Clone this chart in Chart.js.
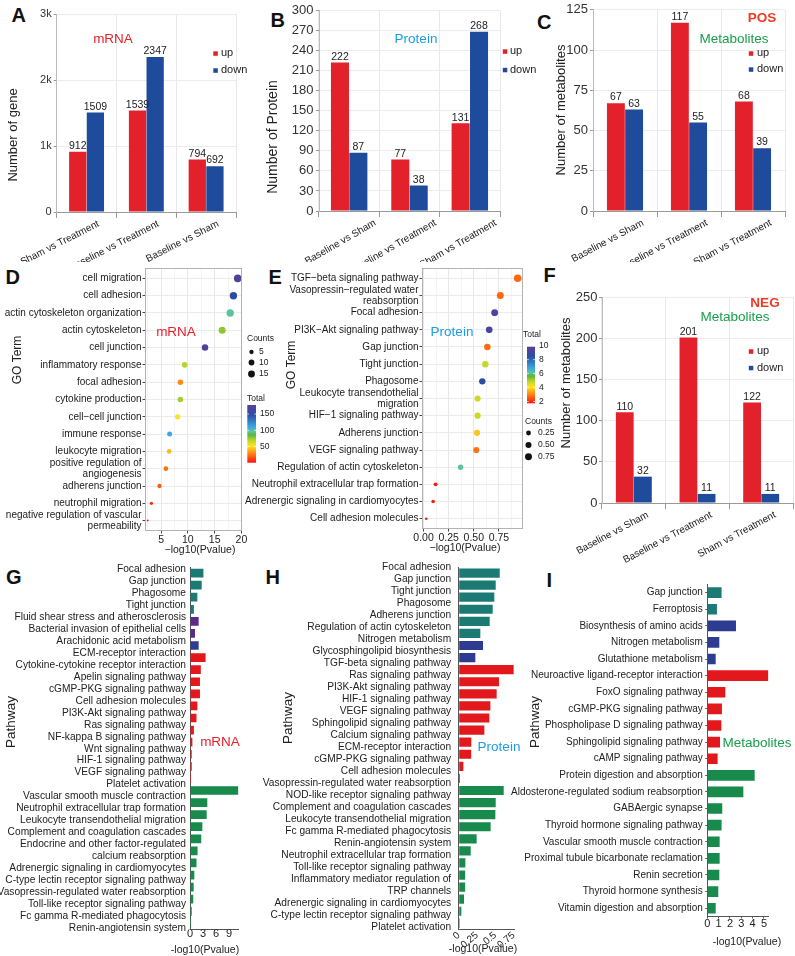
<!DOCTYPE html>
<html>
<head>
<meta charset="utf-8">
<script src="https://cdn.jsdelivr.net/npm/chart.js@4.4.1/dist/chart.umd.min.js"></script>
<style>
  html, body { margin: 0; padding: 0; background: #fff; }
  #fig { position: relative; width: 795px; height: 956px; overflow: hidden; }
  #fig canvas { position: absolute; }
  .tag { position: absolute; font: bold 20px "Liberation Sans", Arial, sans-serif; color: #111; line-height: 1; }
</style>
</head>
<body>
<div id="fig">
  <div class="tag" style="left:11.5px;top:5.4px">A</div>
  <div class="tag" style="left:270.5px;top:10.4px">B</div>
  <div class="tag" style="left:537px;top:12.4px">C</div>
  <div class="tag" style="left:5.5px;top:267.4px">D</div>
  <div class="tag" style="left:268.5px;top:267.4px">E</div>
  <div class="tag" style="left:543.5px;top:265.4px">F</div>
  <div class="tag" style="left:6px;top:567.4px">G</div>
  <div class="tag" style="left:265.5px;top:567.4px">H</div>
  <div class="tag" style="left:546.5px;top:570.4px">I</div>
</div>
<script>
// ---- data: differential counts (A, B, C, F) ----
const aCats = ['Sham vs Treatment', 'Baseline vs Treatment', 'Baseline vs Sham'];
const aUp = [912, 1539, 794];
const aDown = [1509, 2347, 692];
const aTickVals = [0, 1000, 2000, 3000];
const aTickText = ['0', '1k', '2k', '3k'];

const bCats = ['Baseline vs Sham', 'Baseline vs Treatment', 'Sham vs Treatment'];
const bUp = [222, 77, 131];
const bDown = [87, 38, 268];
const bTickVals = [0, 30, 60, 90, 120, 150, 180, 210, 240, 270, 300];

const cCats = ['Baseline vs Sham', 'Baseline vs Treatment', 'Sham vs Treatment'];
const cUp = [67, 117, 68];
const cDown = [63, 55, 39];
const cTickVals = [0, 25, 50, 75, 100, 125];

const fCats = ['Baseline vs Sham', 'Baseline vs Treatment', 'Sham vs Treatment'];
const fUp = [110, 201, 122];
const fDown = [32, 11, 11];
const fTickVals = [0, 50, 100, 150, 200, 250];

// ---- data: GO dot plots (D, E) ----
const dTerms = ['cell migration', 'cell adhesion', 'actin cytoskeleton organization', 'actin cytoskeleton',
  'cell junction', 'inflammatory response', 'focal adhesion', 'cytokine production', 'cell\u2212cell junction',
  'immune response', 'leukocyte migration', ['positive regulation of', 'angiogenesis'], 'adherens junction',
  'neutrophil migration', ['negative regulation of vascular', 'permeability']];
const dLogP = [19.3, 18.5, 17.9, 16.4, 13.2, 9.4, 8.6, 8.6, 8.1, 6.6, 6.5, 5.9, 4.7, 3.2, 2.5];
const dCounts = [19, 18, 18, 16, 13, 9, 9, 9, 8, 7, 6, 6, 5, 3, 2];
const dTotals = [172, 148, 96, 77, 169, 69, 30, 73, 53, 110, 41, 23, 18, 7, 4];
const dKeyCounts = [5, 10, 15];
const dKeyTotals = [50, 100, 150];

const eTerms = ['TGF\u2212beta signaling pathway', ['Vasopressin\u2212regulated water', 'reabsorption'], 'Focal adhesion',
  'PI3K\u2212Akt signaling pathway', 'Gap junction', 'Tight junction', 'Phagosome',
  ['Leukocyte transendothelial', 'migration'], 'HIF\u22121 signaling pathway', 'Adherens junction',
  'VEGF signaling pathway', 'Regulation of actin cytoskeleton', 'Neutrophil extracellular trap formation',
  'Adrenergic signaling in cardiomyocytes', 'Cell adhesion molecules'];
const eLogP = [0.937, 0.764, 0.708, 0.654, 0.635, 0.615, 0.585, 0.538, 0.538, 0.532, 0.525, 0.369, 0.12, 0.096, 0.027];
const eCounts = [0.93, 0.76, 0.71, 0.65, 0.64, 0.62, 0.59, 0.54, 0.54, 0.53, 0.53, 0.37, 0.12, 0.10, 0.03];
const eTotals = [2.72, 2.72, 9.53, 9.28, 2.8, 4.75, 8.47, 4.67, 4.67, 3.78, 2.88, 6.12, 1.85, 1.85, 1.85];
const eKeyCounts = [0.25, 0.5, 0.75];
const eKeyTotals = [2, 4, 6, 8, 10];

// ---- data: KEGG bars (G, H, I); group 0 cellular, 1 disease, 2 metabolism, 3 env. info, 4 organismal ----
const gPaths = ['Focal adhesion', 'Gap junction', 'Phagosome', 'Tight junction', 'Fluid shear stress and atherosclerosis',
  'Bacterial invasion of epithelial cells', 'Arachidonic acid metabolism', 'ECM-receptor interaction',
  'Cytokine-cytokine receptor interaction', 'Apelin signaling pathway', 'cGMP-PKG signaling pathway',
  'Cell adhesion molecules', 'PI3K-Akt signaling pathway', 'Ras signaling pathway', 'NF-kappa B signaling pathway',
  'Wnt signaling pathway', 'HIF-1 signaling pathway', 'VEGF signaling pathway', 'Platelet activation',
  'Vascular smooth muscle contraction', 'Neutrophil extracellular trap formation', 'Leukocyte transendothelial migration',
  'Complement and coagulation cascades', ['Endocrine and other factor-regulated ', 'calcium reabsorption'],
  'Adrenergic signaling in cardiomyocytes', 'C-type lectin receptor signaling pathway',
  'Vasopressin-regulated water reabsorption', 'Toll-like receptor signaling pathway',
  'Fc gamma R-mediated phagocytosis', 'Renin-angiotensin system'];
const gValues = [3.1, 2.7, 1.7, 0.9, 2.0, 1.15, 2.0, 3.6, 2.5, 2.3, 2.3, 1.7, 1.5, 0.9, 0.55, 0.4, 0.4, 0.25,
  11.15, 4.0, 3.85, 2.85, 2.6, 1.75, 1.5, 1.0, 0.85, 0.75, 0.4, 0.25];
const gGroups = [0, 0, 0, 0, 1, 1, 2, 3, 3, 3, 3, 3, 3, 3, 3, 3, 3, 3, 4, 4, 4, 4, 4, 4, 4, 4, 4, 4, 4, 4];
const gTickVals = [0, 3, 6, 9];

const hPaths = ['Focal adhesion', 'Gap junction', 'Tight junction', 'Phagosome', 'Adherens junction',
  'Regulation of actin cytoskeleton', 'Nitrogen metabolism', 'Glycosphingolipid biosynthesis',
  'TGF-beta signaling pathway', 'Ras signaling pathway', 'PI3K-Akt signaling pathway', 'HIF-1 signaling pathway',
  'VEGF signaling pathway', 'Sphingolipid signaling pathway', 'Calcium signaling pathway', 'ECM-receptor interaction',
  'cGMP-PKG signaling pathway', 'Cell adhesion molecules', 'Vasopressin-regulated water reabsorption',
  'NOD-like receptor signaling pathway', 'Complement and coagulation cascades', 'Leukocyte transendothelial migration',
  'Fc gamma R-mediated phagocytosis', 'Renin-angiotensin system', 'Neutrophil extracellular trap formation',
  'Toll-like receptor signaling pathway', ['Inflammatory mediator regulation of ', 'TRP channels'],
  'Adrenergic signaling in cardiomyocytes', 'C-type lectin receptor signaling pathway', 'Platelet activation'];
const hValues = [0.56, 0.505, 0.486, 0.464, 0.423, 0.295, 0.332, 0.227, 0.75, 0.55, 0.518, 0.432, 0.418, 0.35,
  0.172, 0.170, 0.064, 0.018, 0.614, 0.505, 0.5, 0.436, 0.245, 0.164, 0.091, 0.088, 0.088, 0.073, 0.036, 0.014];
const hGroups = [0, 0, 0, 0, 0, 0, 2, 2, 3, 3, 3, 3, 3, 3, 3, 3, 3, 3, 4, 4, 4, 4, 4, 4, 4, 4, 4, 4, 4, 4];
const hTickVals = [0, 0.25, 0.5, 0.75];

const iPaths = ['Gap junction', 'Ferroptosis', 'Biosynthesis of amino acids', 'Nitrogen metabolism',
  'Glutathione metabolism', 'Neuroactive ligand-receptor interaction', 'FoxO signaling pathway',
  'cGMP-PKG signaling pathway', 'Phospholipase D signaling pathway', 'Sphingolipid signaling pathway',
  'cAMP signaling pathway', 'Protein digestion and absorption', 'Aldosterone-regulated sodium reabsorption',
  'GABAergic synapse', 'Thyroid hormone signaling pathway', 'Vascular smooth muscle contraction',
  'Proximal tubule bicarbonate reclamation', 'Renin secretion', 'Thyroid hormone synthesis',
  'Vitamin digestion and absorption'];
const iValues = [1.26, 0.85, 2.53, 1.06, 0.74, 5.38, 1.59, 1.29, 1.24, 1.12, 0.91, 4.18, 3.18, 1.32, 1.26,
  1.09, 1.09, 1.06, 0.97, 0.74];
const iGroups = [0, 0, 2, 2, 2, 3, 3, 3, 3, 3, 3, 4, 4, 4, 4, 4, 4, 4, 4, 4];
const iTickVals = [0, 1, 2, 3, 4, 5];

// ---- styling ----
const FONT = '"Liberation Sans", Arial, Helvetica, sans-serif';
const UP = '#e2212a';
const DOWN = '#1e4b9c';
const GROUP_COLORS = ['#1b7b74', '#5b2a87', '#2d3c90', '#e2181d', '#188a4b'];
const RED_TXT = '#e8202a', BLUE_TXT = '#1d9ce5', GREEN_TXT = '#17a04b', POSNEG = '#ef3b23';
const RAMP = [[0, '#ff1010'], [0.08, '#ff4a12'], [0.19, '#ff9a14'], [0.29, '#ffe41c'], [0.39, '#b8d42c'],
  [0.48, '#5cb83a'], [0.54, '#5cc49e'], [0.62, '#3aa8e0'], [0.83, '#2b4ea5'], [1, '#5a3f9c']];

Chart.defaults.font.family = FONT;
Chart.defaults.color = '#222';
Chart.defaults.animation = false;
Chart.defaults.responsive = false;
Chart.defaults.devicePixelRatio = 1;
Chart.defaults.events = [];
Chart.defaults.plugins.legend.display = false;
Chart.defaults.plugins.tooltip.enabled = false;

const hex = h => [1, 3, 5].map(i => parseInt(h.slice(i, i + 2), 16));
function rampColor(t) {
  t = Math.min(1, Math.max(0, t));
  for (let i = 1; i < RAMP.length; i++) {
    if (t <= RAMP[i][0]) {
      const [t0, c0] = RAMP[i - 1], [t1, c1] = RAMP[i];
      const f = (t - t0) / (t1 - t0), a = hex(c0), b = hex(c1);
      return 'rgb(' + a.map((x, k) => Math.round(x + (b[k] - x) * f)).join(',') + ')';
    }
  }
  return RAMP[RAMP.length - 1][1];
}

function makeCanvas(box) {
  const c = document.createElement('canvas');
  c.width = box.w; c.height = box.h;
  c.style.left = box.x + 'px'; c.style.top = box.y + 'px';
  c.style.width = box.w + 'px'; c.style.height = box.h + 'px';
  document.getElementById('fig').appendChild(c);
  return c.getContext('2d');
}

// place the chart area at fixed page coordinates
function frame(box, area) {
  return {
    padding: { left: 0, top: area.t - box.y, right: box.x + box.w - area.r, bottom: 0 },
    fitY: s => { s.width = area.l - box.x; },
    fitX: s => { s.height = box.y + box.h - area.b; }
  };
}

// free text, legend swatches, axis titles (page coordinates)
function notes(box, items) {
  return {
    id: 'notes',
    afterDraw(chart) {
      const c = chart.ctx;
      items.forEach(it => {
        c.save();
        c.translate(it.x - box.x, it.y - box.y);
        if (it.sq) {
          c.fillStyle = it.sq;
          c.fillRect(-2.2, -2.2, 4.5, 4.5);
        } else {
          if (it.rot) c.rotate(it.rot * Math.PI / 180);
          c.font = it.font || '11px ' + FONT;
          c.fillStyle = it.color || '#222';
          c.textAlign = it.align || 'center';
          c.textBaseline = 'middle';
          c.fillText(it.text, 0, 0);
        }
        c.restore();
      });
    }
  };
}

const valueLabels = {
  id: 'valueLabels',
  afterDatasetsDraw(chart) {
    const c = chart.ctx;
    c.save();
    c.font = '10.5px ' + FONT;
    c.fillStyle = '#222';
    c.textAlign = 'center';
    c.textBaseline = 'bottom';
    chart.data.datasets.forEach((ds, i) => {
      chart.getDatasetMeta(i).data.forEach((bar, j) => c.fillText(ds.data[j], bar.x, bar.y - 0.5));
    });
    c.restore();
  }
};

function groupedBars(o) {
  const fr = frame(o.box, o.area);
  return new Chart(makeCanvas(o.box), {
    type: 'bar',
    data: {
      labels: o.cats,
      datasets: [
        { data: o.up, backgroundColor: UP, categoryPercentage: o.catPct, barPercentage: 0.98 },
        { data: o.down, backgroundColor: DOWN, categoryPercentage: o.catPct, barPercentage: 0.98 }
      ]
    },
    options: {
      layout: { padding: fr.padding },
      scales: {
        x: {
          afterFit: fr.fitX,
          grid: { offset: true, color: '#e8e8e8', tickColor: '#999', tickLength: 6 },
          border: { color: '#999' },
          ticks: { autoSkip: false, minRotation: o.rot, maxRotation: o.rot, labelOffset: o.labelOffset,
            padding: 0, font: { size: 10 } }
        },
        y: {
          min: o.tickVals[0], max: o.tickVals[o.tickVals.length - 1],
          afterFit: fr.fitY,
          afterBuildTicks: s => { s.ticks = o.tickVals.map(v => ({ value: v })); },
          grid: { color: '#ececec', tickColor: '#999', tickLength: 3 },
          border: { color: '#bbb' },
          ticks: { padding: o.yPad, font: { size: o.yFont }, color: '#333',
            callback: (v, i) => (o.tickText ? o.tickText[i] : String(v)) }
        }
      }
    },
    plugins: [valueLabels, notes(o.box, o.notes)]
  });
}

// size / colour keys of the dot plots
function dotKey(box, k) {
  return {
    id: 'dotKey',
    afterDraw(chart) {
      const c = chart.ctx;
      c.save();
      c.translate(-box.x, -box.y);
      c.font = '8.5px ' + FONT;
      c.fillStyle = '#222';
      c.textBaseline = 'middle';
      c.textAlign = 'left';
      c.fillText('Counts', k.countsX, k.countsY);
      k.counts.forEach((v, i) => {
        c.beginPath();
        c.arc(k.dotX, k.dotY[i], k.radius(v), 0, Math.PI * 2);
        c.fillStyle = '#111';
        c.fill();
        c.fillStyle = '#222';
        c.fillText(k.countText[i], k.countLabX, k.dotY[i]);
      });
      c.fillText('Total', k.totalX, k.totalY);
      const b = k.bar;
      const g = c.createLinearGradient(0, b.b, 0, b.t);
      RAMP.forEach(([t, col]) => g.addColorStop(t, col));
      c.fillStyle = g;
      c.fillRect(b.l, b.t, b.r - b.l, b.b - b.t);
      k.totals.forEach(v => {
        const y = b.b - (v - k.lo) / (k.hi - k.lo) * (b.b - b.t);
        c.strokeStyle = 'rgba(255,255,255,0.9)';
        c.lineWidth = 0.8;
        c.beginPath();
        c.moveTo(b.l, y); c.lineTo(b.l + 1.8, y);
        c.moveTo(b.r - 1.8, y); c.lineTo(b.r, y);
        c.stroke();
        c.fillStyle = '#222';
        c.fillText(String(v), b.r + 4, y);
      });
      c.restore();
    }
  };
}

const panelBorder = {
  id: 'panelBorder',
  afterDraw(chart) {
    const a = chart.chartArea, c = chart.ctx;
    c.save();
    c.strokeStyle = '#b3b3b3';
    c.lineWidth = 1;
    c.strokeRect(a.left + 0.5, a.top + 0.5, a.right - a.left - 1, a.bottom - a.top - 1);
    c.restore();
  }
};

function dotPlot(o) {
  const fr = frame(o.box, o.area);
  const isMajor = v => Math.abs(v / o.major - Math.round(v / o.major)) < 1e-6;
  return new Chart(makeCanvas(o.box), {
    type: 'bubble',
    data: {
      datasets: [{
        data: o.x.map((v, i) => ({ x: v, y: i, r: o.radius(o.counts[i]) })),
        backgroundColor: o.totals.map(t => rampColor((t - o.lo) / (o.hi - o.lo))),
        borderWidth: 0
      }]
    },
    options: {
      layout: { padding: fr.padding },
      clip: false,
      scales: {
        x: {
          type: 'linear', min: o.xMin, max: o.xMax,
          afterFit: fr.fitX,
          afterBuildTicks: s => { s.ticks = o.xTicks.map(v => ({ value: v })); },
          grid: {
            color: c => (isMajor(c.tick.value) ? '#e8e8e8' : '#f4f4f4'),
            tickColor: c => (isMajor(c.tick.value) ? '#444' : 'rgba(0,0,0,0)'),
            tickLength: 2.5
          },
          border: { display: false },
          ticks: { autoSkip: false, minRotation: 0, maxRotation: 0, padding: 0, font: { size: 10.5 },
            color: '#222', callback: v => (isMajor(v) ? o.fmt(v) : '') }
        },
        y: {
          type: 'linear', reverse: true, min: -0.6, max: o.terms.length - 0.4,
          afterFit: fr.fitY,
          afterBuildTicks: s => { s.ticks = o.terms.map((t, i) => ({ value: i })); },
          grid: { color: '#ebebeb', tickColor: '#444', tickLength: 2.5 },
          border: { display: false },
          ticks: { autoSkip: false, padding: 1, font: { size: 10, lineHeight: 1.1 }, color: '#1a1a1a',
            callback: v => o.terms[Math.round(v)] }
        }
      }
    },
    plugins: [panelBorder, dotKey(o.box, o.key), notes(o.box, o.notes)]
  });
}

// pathway names spread evenly down the axis, as in the source figure
function spreadLabels(o) {
  return {
    id: 'spreadLabels',
    afterDraw(chart) {
      const s = chart.scales.y, c = chart.ctx;
      const n = chart.data.labels.length;
      const lines = chart.data.labels.flatMap(l => (Array.isArray(l) ? l : [l]));
      const y0 = s.getPixelForValue(0) + o.dTop;
      const y1 = s.getPixelForValue(n - 1) + o.dBottom;
      const step = (y1 - y0) / (lines.length - 1);
      c.save();
      c.font = o.font + 'px ' + FONT;
      c.fillStyle = '#222';
      c.textAlign = 'right';
      c.textBaseline = 'middle';
      lines.forEach((t, k) => c.fillText(t.trim(), s.right - o.gap, y0 + k * step));
      c.restore();
    }
  };
}

function pathwayBars(o) {
  const fr = frame(o.box, o.area);
  const plugins = [notes(o.box, o.notes)];
  if (o.spread) plugins.push(spreadLabels(o.spread));
  return new Chart(makeCanvas(o.box), {
    type: 'bar',
    data: {
      labels: o.paths,
      datasets: [{
        data: o.values,
        backgroundColor: o.groups.map(g => GROUP_COLORS[g]),
        categoryPercentage: 1, barPercentage: o.barPct
      }]
    },
    options: {
      indexAxis: 'y',
      layout: { padding: fr.padding },
      scales: {
        x: {
          type: 'linear', min: 0, max: o.xMax,
          afterFit: fr.fitX,
          afterBuildTicks: s => { s.ticks = o.xTicks.map(v => ({ value: v })); },
          grid: { drawOnChartArea: false, tickColor: '#555', tickLength: o.xTickLen },
          border: { color: '#555' },
          ticks: { autoSkip: false, padding: 0, minRotation: o.xRot, maxRotation: o.xRot,
            font: { size: o.xFont, lineHeight: o.xLine }, color: '#222', callback: v => String(v) }
        },
        y: {
          type: 'category', offset: true,
          afterFit: fr.fitY,
          grid: { display: true, drawOnChartArea: false, tickColor: '#555', tickLength: o.spread ? 0 : 2,
            offset: false },
          border: { color: '#555' },
          ticks: { display: !o.spread, autoSkip: false, padding: 2.5, font: { size: 10 }, color: '#222' }
        }
      }
    },
    plugins
  });
}

const T = (text, x, y, size, extra) => Object.assign({ text, x, y, font: size + 'px ' + FONT }, extra || {});

// ---- A ----
const boxA = { x: 0, y: 0, w: 265, h: 262 };
groupedBars({
  box: boxA, area: { l: 55, t: 14, r: 236, b: 212 },
  cats: aCats, up: aUp, down: aDown, tickVals: aTickVals, tickText: aTickText,
  catPct: 0.59, rot: 27, labelOffset: 12, yFont: 11, yPad: 2,
  notes: [
    T('mRNA', 113, 39, 13.5, { color: RED_TXT }),
    { sq: UP, x: 215.5, y: 53.5 }, T('up', 221, 53, 11, { align: 'left' }),
    { sq: DOWN, x: 215.5, y: 70.5 }, T('down', 221, 70, 11, { align: 'left' }),
    T('Number of gene', 13.5, 135, 13, { rot: -90 })
  ]
});

// ---- B ----
const boxB = { x: 262, y: 0, w: 283, h: 262 };
groupedBars({
  box: boxB, area: { l: 319, t: 10, r: 500, b: 211 },
  cats: bCats, up: bUp, down: bDown, tickVals: bTickVals,
  catPct: 0.61, rot: 30, labelOffset: 26, yFont: 13, yPad: 2.5,
  notes: [
    T('Protein', 416, 39, 13.5, { color: BLUE_TXT }),
    { sq: UP, x: 505, y: 51.5 }, T('up', 510, 51, 11, { align: 'left' }),
    { sq: DOWN, x: 505, y: 70 }, T('down', 510, 70, 11, { align: 'left' }),
    T('Number of Protein', 273, 137, 14, { rot: -90 })
  ]
});

// ---- C ----
const boxC = { x: 530, y: 0, w: 265, h: 262 };
groupedBars({
  box: boxC, area: { l: 593, t: 9, r: 785, b: 211 },
  cats: cCats, up: cUp, down: cDown, tickVals: cTickVals,
  catPct: 0.57, rot: 28, labelOffset: 18, yFont: 13, yPad: 2,
  notes: [
    T('POS', 762, 18, 13.5, { color: POSNEG, font: 'bold 13.5px ' + FONT }),
    T('Metabolites', 734, 39, 13.5, { color: GREEN_TXT }),
    { sq: UP, x: 751, y: 53.5 }, T('up', 757, 53, 11, { align: 'left' }),
    { sq: DOWN, x: 751, y: 69.5 }, T('down', 757, 69, 11, { align: 'left' }),
    T('Number of metabolites', 561.7, 110, 13, { rot: -90 })
  ]
});

// ---- F ----
const boxF = { x: 545, y: 262, w: 250, h: 310 };
groupedBars({
  box: boxF, area: { l: 602, t: 297, r: 793, b: 503 },
  cats: fCats, up: fUp, down: fDown, tickVals: fTickVals,
  catPct: 0.57, rot: 28, labelOffset: 14, yFont: 13, yPad: 1.5,
  notes: [
    T('NEG', 765, 303, 13.5, { color: POSNEG, font: 'bold 13.5px ' + FONT }),
    T('Metabolites', 735, 317, 13.5, { color: GREEN_TXT }),
    { sq: UP, x: 751, y: 351.5 }, T('up', 757, 351, 11, { align: 'left' }),
    { sq: DOWN, x: 751, y: 368 }, T('down', 757, 368, 11, { align: 'left' }),
    T('Number of metabolites', 566.7, 383, 13, { rot: -90 })
  ]
});

// ---- D ----
const boxD = { x: 0, y: 250, w: 290, h: 312 };
const dRadius = v => 1 + 2.8 * Math.sqrt(Math.max(v - 2, 0) / 17.3);
dotPlot({
  box: boxD, area: { l: 145, t: 268, r: 242, b: 531 },
  terms: dTerms, x: dLogP, counts: dCounts, totals: dTotals, radius: dRadius, lo: 0, hi: 178,
  xMin: 2.0, xMax: 20.1, xTicks: [2.5, 5, 7.5, 10, 12.5, 15, 17.5, 20], major: 5, fmt: v => String(v),
  key: {
    countsX: 247, countsY: 339, dotX: 251.5, dotY: [352, 362.5, 374], countLabX: 259,
    counts: dKeyCounts, countText: dKeyCounts.map(String), radius: dRadius,
    totalX: 247, totalY: 399, bar: { l: 247.3, r: 256, t: 405, b: 462.7 }, totals: dKeyTotals, lo: 0, hi: 178
  },
  notes: [
    T('mRNA', 176, 332, 13.5, { color: RED_TXT }),
    T('GO Term', 18, 360, 12, { rot: -90 }),
    T('\u2212log10(Pvalue)', 200, 550, 10.5)
  ]
});

// ---- E ----
const boxE = { x: 245, y: 250, w: 320, h: 312 };
const eRadius = v => 1 + 2.8 * Math.sqrt(Math.max(v - 0.02, 0) / 0.92);
dotPlot({
  box: boxE, area: { l: 422, t: 268, r: 523, b: 529 },
  terms: eTerms, x: eLogP, counts: eCounts, totals: eTotals, radius: eRadius, lo: 1.75, hi: 9.85,
  xMin: -0.015, xMax: 0.99, xTicks: [0, 0.125, 0.25, 0.375, 0.5, 0.625, 0.75, 0.875], major: 0.25,
  fmt: v => v.toFixed(2),
  key: {
    countsX: 525, countsY: 422, dotX: 528.5, dotY: [433, 445, 456.7], countLabX: 538,
    counts: eKeyCounts, countText: eKeyCounts.map(v => v.toFixed(2)), radius: eRadius,
    totalX: 523, totalY: 335, bar: { l: 527, r: 535, t: 346.7, b: 403.3 }, totals: eKeyTotals, lo: 1.75, hi: 9.85
  },
  notes: [
    T('Protein', 452, 332, 13.5, { color: BLUE_TXT }),
    T('GO Term', 292, 365, 12, { rot: -90 }),
    T('\u2212log10(Pvalue)', 465, 548, 10.5)
  ]
});

// ---- G ----
const boxG = { x: 0, y: 552, w: 262, h: 404 };
pathwayBars({
  box: boxG, area: { l: 190, t: 567, r: 238.5, b: 929.4 },
  paths: gPaths, values: gValues, groups: gGroups, barPct: 0.72,
  xMax: 11.2, xTicks: gTickVals, xRot: 0, xFont: 11, xLine: 0.75, xTickLen: 0,
  spread: { dTop: -4, dBottom: 5, gap: 4, font: 10.2 },
  notes: [
    T('mRNA', 220, 742, 13.5, { color: RED_TXT }),
    T('Pathway', 11, 722, 13.5, { rot: -90 }),
    T('-log10(Pvalue)', 205, 950, 10.5)
  ]
});

// ---- H ----
const boxH = { x: 262, y: 552, w: 263, h: 404 };
pathwayBars({
  box: boxH, area: { l: 458.7, t: 567, r: 514.4, b: 929.4 },
  paths: hPaths, values: hValues, groups: hGroups, barPct: 0.76,
  xMax: 0.76, xTicks: hTickVals, xRot: 40, xFont: 10, xLine: 1.2, xTickLen: 0,
  spread: { dTop: -6, dBottom: 3.7, gap: 7.5, font: 10.2 },
  notes: [
    T('Protein', 499, 747, 13.5, { color: BLUE_TXT }),
    T('Pathway', 288, 718, 13.5, { rot: -90 }),
    T('-log10(Pvalue)', 483, 949, 10.5)
  ]
});

// ---- I ----
const boxI = { x: 505, y: 552, w: 290, h: 404 };
pathwayBars({
  box: boxI, area: { l: 707.3, t: 584.3, r: 768.5, b: 916.5 },
  paths: iPaths, values: iValues, groups: iGroups, barPct: 0.64,
  xMax: 5.4, xTicks: iTickVals, xRot: 0, xFont: 11, xLine: 1, xTickLen: 2,
  notes: [
    T('Metabolites', 757, 743, 13.5, { color: GREEN_TXT }),
    T('Pathway', 535, 722, 13.5, { rot: -90 }),
    T('-log10(Pvalue)', 747, 942, 10.5)
  ]
});
</script>
</body>
</html>
